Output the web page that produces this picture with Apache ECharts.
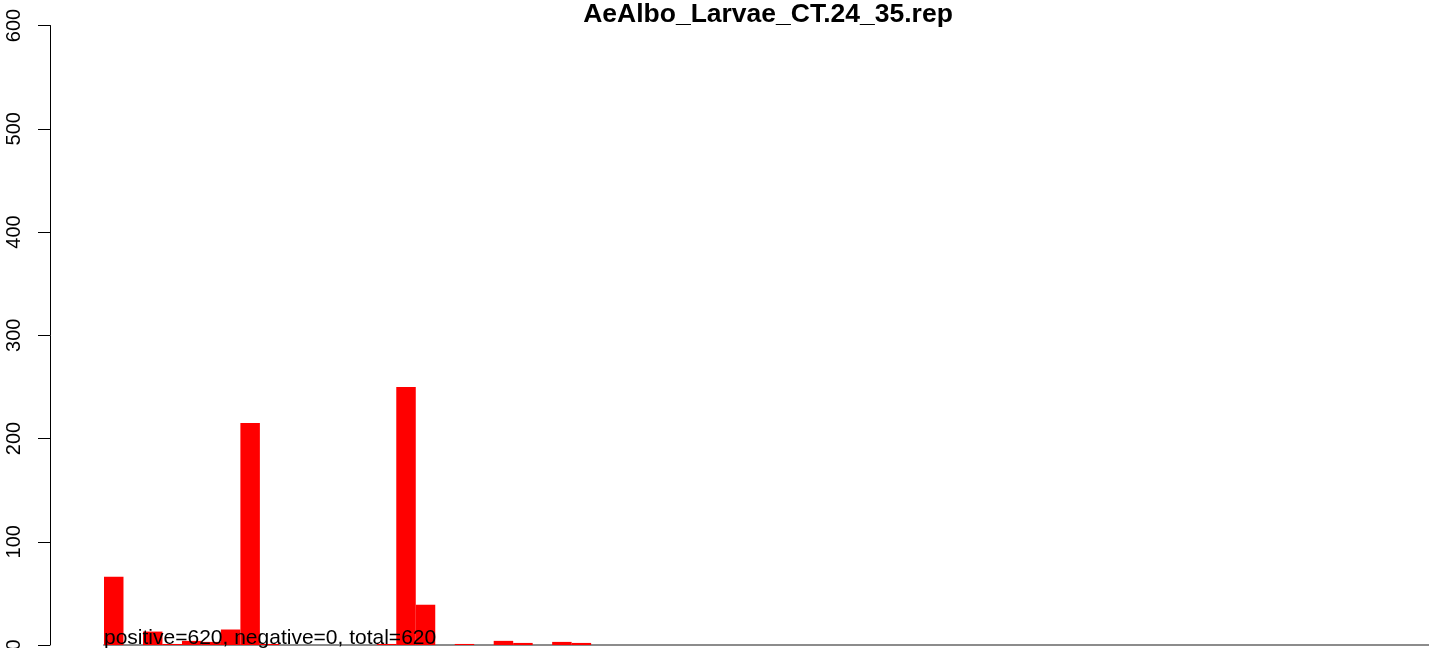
<!DOCTYPE html>
<html>
<head>
<meta charset="utf-8">
<script src="https://cdn.jsdelivr.net/npm/echarts@6/dist/echarts.min.js"></script>
<style>
html,body{margin:0;padding:0;background:#fff;}
#chart{width:1429px;height:648px;}
</style>
</head>
<body>
<div id="chart"></div>
<script>
// Chart data
var chartTitle = 'AeAlbo_Larvae_CT.24_35.rep';
var summaryText = 'positive=620, negative=0, total=620';
var binValues = [66, 0, 13, 1, 4, 3, 15, 215, 1, 0, 0, 0, 0, 0, 1, 250, 39, 0, 1, 0, 4, 2, 0, 3, 2,
  0, 0, 0, 0, 0, 0, 0, 0, 0, 0, 0, 0, 0, 0, 0, 0, 0, 0, 0, 0, 0, 0, 0, 0, 0,
  0, 0, 0, 0, 0, 0, 0, 0, 0, 0, 0, 0, 0, 0, 0, 0, 0, 0];
var binLabels = binValues.map(function (v, i) { return String(i); });
var yTicks = [0, 100, 200, 300, 400, 500, 600];

var FONT = "'Liberation Sans', Arial, Helvetica, sans-serif";
var chart = echarts.init(document.getElementById('chart'), null, {renderer: 'canvas'});
chart.setOption({
  animation: false,
  backgroundColor: '#ffffff',
  grid: {left: 104, right: 0, top: 25.5, bottom: 3, containLabel: false, outerBoundsMode: 'none'},
  xAxis: {
    type: 'category',
    data: binLabels,
    boundaryGap: true,
    axisLine: {show: true, lineStyle: {color: '#8c8c8c', width: 2}},
    axisTick: {show: false},
    axisLabel: {show: false},
    splitLine: {show: false},
    z: 1
  },
  yAxis: {
    type: 'value',
    min: yTicks[0],
    max: yTicks[yTicks.length - 1],
    interval: 100,
    offset: 54,
    axisLine: {show: true, lineStyle: {color: '#000', width: 1}},
    axisTick: {show: true, length: 12, lineStyle: {color: '#000', width: 1}},
    axisLabel: {show: true, rotate: 90, margin: 26, color: '#000', fontSize: 20, fontFamily: FONT},
    splitLine: {show: false}
  },
  series: [{
    type: 'bar',
    data: binValues,
    barWidth: '100%',
    barGap: '0%',
    itemStyle: {color: '#ff0000'},
    z: 3
  }],
  graphic: [
    {
      type: 'text', x: 768, y: 14.5, z: 10,
      style: {text: chartTitle, textAlign: 'center', textVerticalAlign: 'middle',
        font: 'bold 26.5px ' + FONT, fill: '#000'}
    },
    {
      type: 'text', x: 104, y: 649, z: 10,
      style: {text: summaryText, textAlign: 'left', textVerticalAlign: 'bottom',
        font: '21px ' + FONT, fill: '#000'}
    }
  ]
});
</script>
</body>
</html>
